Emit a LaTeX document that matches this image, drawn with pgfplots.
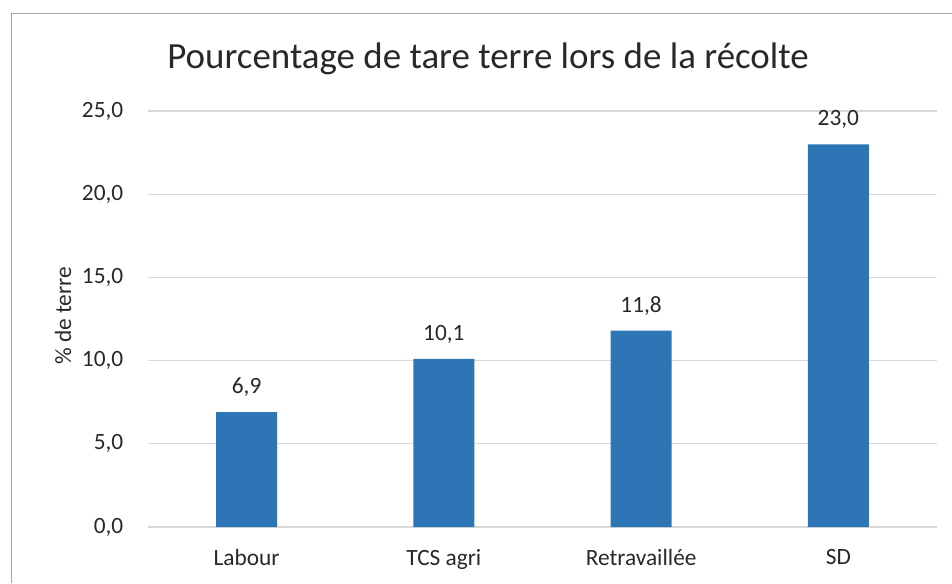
\documentclass[border=0pt]{standalone}
\usepackage{fontspec}
\setmainfont{Carlito}
\usepackage{pgfplots}
\pgfplotsset{compat=1.18}
\definecolor{barblue}{RGB}{46,117,182}
\definecolor{gridgray}{RGB}{217,217,217}
\definecolor{txt}{RGB}{40,40,40}

\begin{document}
% 1px = 0.75pt, picture 952x583 px
\begin{tikzpicture}[x=0.75pt,y=0.75pt]
\useasboundingbox (0,0) rectangle (952,583);
% frame of the scanned chart area
\draw[black!35, line width=0.6pt] (11,0) -- (11,570) -- (952,570);
\begin{axis}[
  at={(111pt,42pt)}, anchor=south west,
  scale only axis, width=591.75pt, height=312pt,
  xmin=-0.5, xmax=3.5, ymin=0, ymax=25,
  ytick={0,5,10,15,20,25},
  xtick={0,1,2,3},
  xticklabels={Labour, TCS agri, Retravaillée, SD},
  axis line style={draw=none},
  major tick length=0pt,
  ymajorgrids, grid style={gridgray, line width=0.8pt},
  tick label style={font=\fontsize{17.5}{20}\selectfont, txt},
  /pgf/number format/assume math mode=true,
  yticklabel style={xshift=-15pt, /pgf/number format/fixed, /pgf/number format/fixed zerofill,
    /pgf/number format/precision=1, /pgf/number format/use comma},
  xticklabel style={yshift=-13pt},
  ybar, bar width=45.75pt,
  nodes near coords,
  nodes near coords style={font=\fontsize{17.5}{20}\selectfont, txt, yshift=8pt,
    /pgf/number format/fixed, /pgf/number format/fixed zerofill,
    /pgf/number format/precision=1, /pgf/number format/use comma},
  clip=false,
]
\addplot[fill=barblue, draw=none] coordinates {(0,6.9) (1,10.1) (2,11.8) (3,23.0)};
\end{axis}
\node[font=\fontsize{27.7}{32}\selectfont, txt] at (488,524) {Pourcentage de tare terre lors de la récolte};
\node[font=\fontsize{17.5}{20}\selectfont, txt, rotate=90] at (63,267) {\% de terre};
\end{tikzpicture}
\end{document}
